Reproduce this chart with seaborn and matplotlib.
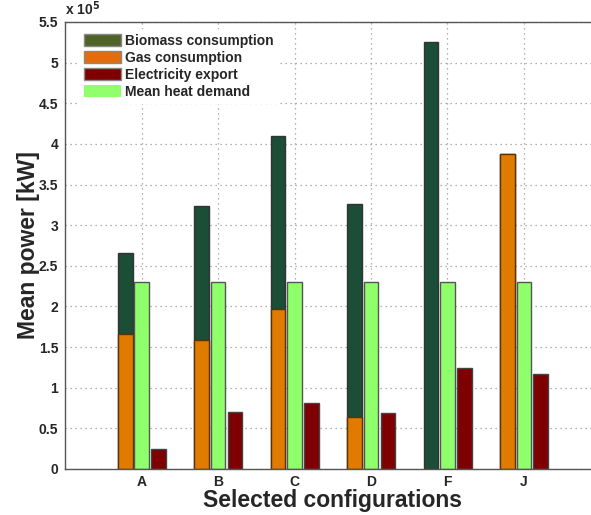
import numpy as np
import pandas as pd
import matplotlib
matplotlib.use("Agg")
import matplotlib.pyplot as plt
import seaborn as sns
from matplotlib.patches import Patch

configs = ["A", "B", "C", "D", "F", "J"]
gas = [1.66, 1.59, 1.97, 0.645, 0.0, 3.875]          # x 1e5 kW
biomass = [1.00, 1.64, 2.13, 2.615, 5.25, 0.0]       # x 1e5 kW
heat_demand = [2.30, 2.30, 2.30, 2.30, 2.30, 2.30]   # x 1e5 kW
elec_export = [0.24, 0.70, 0.81, 0.69, 1.24, 1.165]  # x 1e5 kW
yticks = [0, 0.5, 1, 1.5, 2, 2.5, 3, 3.5, 4, 4.5, 5, 5.5]

sns.set_style("white")
plt.rcParams["font.family"] = ["Liberation Sans", "DejaVu Sans"]
plt.rcParams["font.weight"] = "bold"

pos = np.arange(1, len(configs) + 1)
df = pd.DataFrame({
    "pos": pos,
    "gas": gas,
    "total": np.array(gas) + np.array(biomass),
    "heat": heat_demand,
    "elec": elec_export,
})

fig = plt.figure(figsize=(5.91, 5.15), dpi=100)
ax = fig.add_axes([65.3 / 591, 1 - 469 / 515, 535 / 591, 447 / 515])

c_bio = "#1b4d37"
c_gas = "#e07b00"
c_heat = "#90ff6c"
c_elec = "#7f0000"
w = 0.19
kw = dict(native_scale=True, width=w, saturation=1, errorbar=None, ax=ax,
          linewidth=1.0)

sns.barplot(x=df["pos"] - 0.215, y=df["total"], color=c_bio, edgecolor="#333333", **kw)
sns.barplot(x=df["pos"] - 0.215, y=df["gas"], color=c_gas, edgecolor="#5a3300", **kw)
sns.barplot(x=df["pos"], y=df["heat"], color=c_heat, edgecolor="#555555", **kw)
sns.barplot(x=df["pos"] + 0.22, y=df["elec"], color=c_elec, edgecolor="#444444", **kw)

ax.set_xlim(0, 7)
ax.set_ylim(0, 5.5)
ax.set_xticks(pos)
ax.set_xticklabels(configs, fontsize=10, fontweight="bold")
ax.set_yticks(yticks)
ax.set_yticklabels([f"{v:g}" for v in yticks], fontsize=10, fontweight="bold")
ax.tick_params(direction="in", length=3, width=0.8, color="#555555", pad=5)
ax.tick_params(axis="x", pad=4)
ax.set_axisbelow(True)
ax.grid(True, linestyle=(0, (1, 3)), color="#999999", linewidth=0.9)
for s in ax.spines.values():
    s.set_color("#555555")
    s.set_linewidth(1.0)
ax.spines["right"].set_visible(False)

ax.set_xlabel("Selected configurations", fontsize=16.5, fontweight="bold", labelpad=0.5)
ax.set_ylabel("Mean power [kW]", fontsize=16.5, fontweight="bold", labelpad=-1)
ax.text(0.0, 1.008, r"x 10$^{5}$", transform=ax.transAxes, fontsize=10,
        fontweight="bold", ha="left", va="bottom")

handles = [
    Patch(facecolor="#4f6228", edgecolor="#888888", label="Biomass consumption"),
    Patch(facecolor="#e46c0a", edgecolor="#888888", label="Gas consumption"),
    Patch(facecolor="#7f0000", edgecolor="#888888", label="Electricity export"),
    Patch(facecolor=c_heat, edgecolor="none", label="Mean heat demand"),
]
leg = ax.legend(handles=handles, loc="upper left", bbox_to_anchor=(0.025, 0.985),
                frameon=True, fancybox=False, framealpha=1, edgecolor="white",
                prop={"size": 10, "weight": "bold"}, handlelength=2.7,
                handleheight=1.0, handletextpad=0.25, labelspacing=0.22,
                borderpad=0.35, borderaxespad=0.0)
leg.get_frame().set_linewidth(0)

fig.savefig("out.png", dpi=100)
